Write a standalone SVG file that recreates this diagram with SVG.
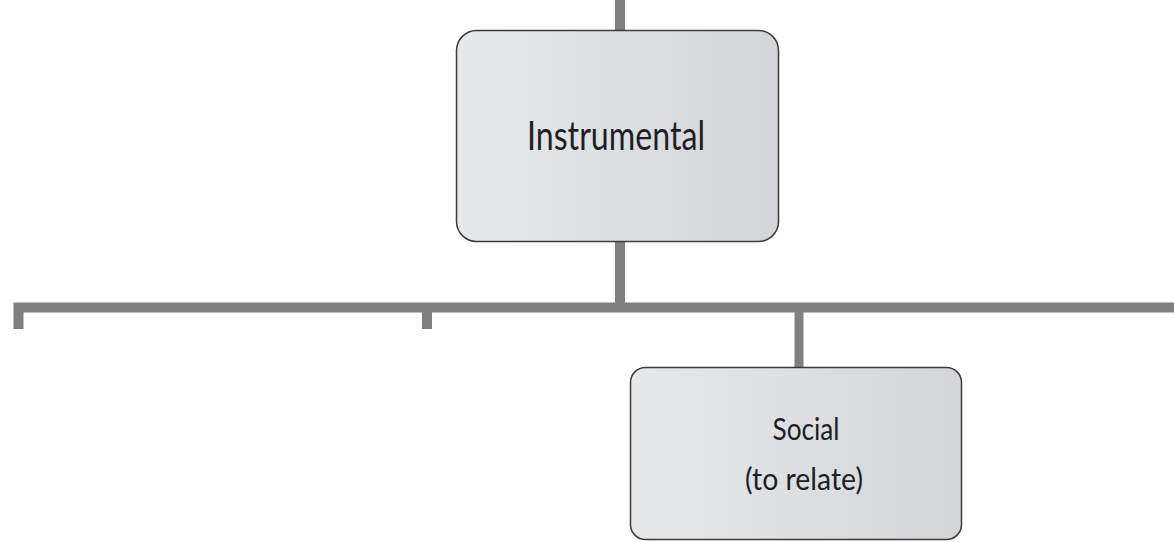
<svg xmlns="http://www.w3.org/2000/svg" width="1174" height="542" viewBox="0 0 1174 542">
  <defs>
    <linearGradient id="boxFill" x1="0" y1="0" x2="1" y2="0">
      <stop offset="0" stop-color="#e6e8ea"/>
      <stop offset="1" stop-color="#d3d5d8"/>
    </linearGradient>
  </defs>
  <style>
    .box { fill: url(#boxFill); stroke: #3a3a3a; stroke-width: 1.5; }
    .wire { stroke: #808080; stroke-width: 10; fill: none; stroke-linecap: butt; }
    .label { font-family: Lato, "Liberation Sans", Arial, sans-serif; fill: #1e1f26; text-anchor: middle; }
  </style>

  <rect width="1174" height="542" fill="#ffffff"/>

  <!-- connectors -->
  <g id="connectors">
    <line class="wire" x1="620" y1="0" x2="620" y2="31"/>
    <line class="wire" x1="620" y1="242" x2="620" y2="303"/>
    <path class="wire" d="M18.5 329 V307.5 H1174"/>
    <line class="wire" x1="427" y1="307" x2="427" y2="329"/>
    <line class="wire" x1="799" y1="307" x2="799" y2="368" style="stroke-width:9"/>
  </g>

  <!-- Instrumental -->
  <g id="node-instrumental">
    <rect class="box" x="456.5" y="30.5" width="322" height="211" rx="20" ry="20"/>
    <text class="label" x="616" y="150" font-size="41" textLength="178" lengthAdjust="spacingAndGlyphs">Instrumental</text>
  </g>

  <!-- Social -->
  <g id="node-social">
    <rect class="box" x="630.5" y="367.5" width="331" height="172" rx="15" ry="15"/>
    <text class="label" x="806" y="440" font-size="30" textLength="67" lengthAdjust="spacingAndGlyphs">Social</text>
    <text class="label" x="804" y="490" font-size="30" textLength="118" lengthAdjust="spacingAndGlyphs">(to relate)</text>
  </g>
</svg>
